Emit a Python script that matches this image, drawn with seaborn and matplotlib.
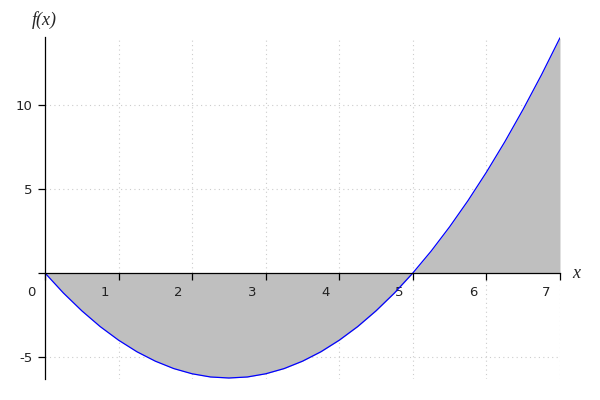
import matplotlib
matplotlib.use("Agg")
import matplotlib.pyplot as plt
import matplotlib.transforms as mtransforms
import seaborn as sns
import pandas as pd

# values (x step 0.25)
x_vals = [0.0, 0.25, 0.5, 0.75, 1.0, 1.25, 1.5, 1.75, 2.0, 2.25, 2.5, 2.75, 3.0,
          3.25, 3.5, 3.75, 4.0, 4.25, 4.5, 4.75, 5.0, 5.25, 5.5, 5.75, 6.0,
          6.25, 6.5, 6.75, 7.0]
f_vals = [0.0, -1.19, -2.25, -3.19, -4.0, -4.69, -5.25, -5.69, -6.0, -6.19, -6.25,
          -6.19, -6.0, -5.69, -5.25, -4.69, -4.0, -3.19, -2.25, -1.19, 0.0,
          1.31, 2.75, 4.31, 6.0, 7.81, 9.75, 11.81, 14.0]
x_ticks = [0, 1, 2, 3, 4, 5, 6, 7]
y_ticks = [-5, 0, 5, 10]
y_tick_labels = ["-5", "", "5", "10"]

df = pd.DataFrame({"x": x_vals, "f": f_vals})

sns.set_style("white")
fig = plt.figure(figsize=(6, 4), dpi=100)
ax = fig.add_axes([0.075, 0.0525, 0.8583, 0.855])
ax.set_axisbelow(False)

ax.fill_between(df["x"], df["f"], 0, color="#bfbfbf", linewidth=0, zorder=1)
sns.lineplot(data=df, x="x", y="f", ax=ax, color="blue", linewidth=0.9,
             sort=False, estimator=None, zorder=3)

ax.set_xlim(0, 7)
ax.set_ylim(-6.31, 14.05)
ax.set_xticks(x_ticks)
ax.set_xticklabels([str(t) for t in x_ticks])
ax.set_yticks(y_ticks)
ax.set_yticklabels(y_tick_labels)
ax.set_xlabel("")
ax.set_ylabel("")

for v in x_ticks[1:]:
    ax.axvline(v, color="#cccccc", linestyle=(0, (1, 3)), linewidth=0.8, zorder=0)
for v in [-5, 5, 10]:
    ax.axhline(v, color="#cccccc", linestyle=(0, (1, 3)), linewidth=0.8, zorder=0)

ax.spines["top"].set_visible(False)
ax.spines["right"].set_visible(False)
ax.spines["bottom"].set_position(("data", 0))
for s in ["left", "bottom"]:
    ax.spines[s].set_color("#000000")
    ax.spines[s].set_linewidth(0.9)
    ax.spines[s].set_zorder(4)

ax.tick_params(axis="both", direction="out", length=5, width=0.9, color="#000000",
               labelsize=9.5, labelcolor="#222222", pad=4)
ax.tick_params(axis="x", bottom=True)
ax.tick_params(axis="y", left=True)

offset = mtransforms.ScaledTranslation(-13.5 / 100, 0, fig.dpi_scale_trans)
for lab in ax.get_xticklabels():
    lab.set_transform(lab.get_transform() + offset)

ax.annotate("x", xy=(7, 0), xytext=(9, 0), textcoords="offset points",
            ha="left", va="center", fontsize=13, fontstyle="italic",
            family="Liberation Serif", annotation_clip=False)
fig.text(44 / 600, 1 - 20 / 400, "f(x)", ha="center", va="center", fontsize=13,
         fontstyle="italic", family="Liberation Serif")

fig.savefig("out.png", dpi=100)
